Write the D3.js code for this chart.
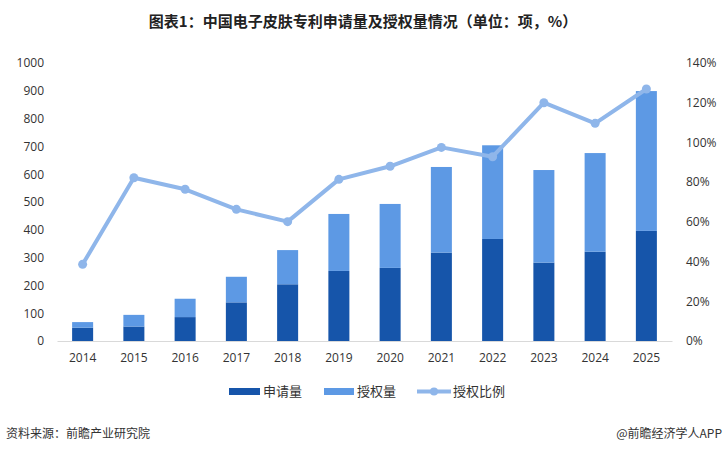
<!DOCTYPE html>
<html><head><meta charset="utf-8">
<script src="https://cdn.jsdelivr.net/npm/d3@7/dist/d3.min.js"></script>
<style>body{margin:0;background:#fff}</style>
</head><body><svg id="c" width="727" height="455"></svg>
<script>
const years = ["2014","2015","2016","2017","2018","2019","2020","2021","2022","2023","2024","2025"];
const applications = [48, 52, 86, 139, 204, 252, 263, 318, 367, 282, 321, 396];
const grants = [20, 42, 66, 92, 123, 205, 230, 308, 337, 333, 355, 503];
const grantRatio = [38.6, 82.2, 76.4, 66.3, 60.1, 81.4, 88.0, 97.5, 92.8, 120.0, 109.6, 126.9];
const leftTicks = [0,100,200,300,400,500,600,700,800,900,1000];
const rightTicks = [0,20,40,60,80,100,120,140];

const svg = d3.select("#c");
const font = "'Noto Sans CJK SC', 'Microsoft YaHei', sans-serif";
const cDark = "#1655AA", cLight = "#5D99E4", cLine = "#8FB6EA";

const x = d3.scaleBand().domain(years).range([57, 672]).paddingInner(0.59).paddingOuter(0.295);
const yL = d3.scaleLinear().domain([0, 1000]).range([341, 63]);
const yR = d3.scaleLinear().domain([0, 140]).range([341, 63]);

svg.append("text").attr("x", 363).attr("y", 27).attr("text-anchor", "middle")
  .attr("font-family", font).attr("font-weight", "bold").attr("font-size", 15).attr("fill", "#222")
  .text("图表1：中国电子皮肤专利申请量及授权量情况（单位：项，%）");

// bars
const g = svg.append("g");
g.selectAll(".a").data(years).join("rect")
  .attr("x", d => x(d)).attr("width", x.bandwidth())
  .attr("y", (d,i) => yL(applications[i])).attr("height", (d,i) => yL(0) - yL(applications[i]))
  .attr("fill", cDark);
g.selectAll(".b").data(years).join("rect")
  .attr("x", d => x(d)).attr("width", x.bandwidth())
  .attr("y", (d,i) => yL(applications[i] + grants[i])).attr("height", (d,i) => yL(applications[i]) - yL(applications[i] + grants[i]))
  .attr("fill", cLight);

// axes
const axL = svg.append("g").attr("transform", "translate(50,0)")
  .call(d3.axisLeft(yL).tickValues(leftTicks).tickSize(0).tickPadding(6).tickFormat(d3.format("d")));
axL.select(".domain").remove();
const axR = svg.append("g").attr("transform", "translate(680,0)")
  .call(d3.axisRight(yR).tickValues(rightTicks).tickSize(0).tickPadding(6).tickFormat(d => d + "%"));
axR.select(".domain").remove();
const axB = svg.append("g").attr("transform", "translate(0,341)")
  .call(d3.axisBottom(x).tickSize(0).tickPadding(12));
axB.select(".domain").attr("stroke", "#d9d9d9");
svg.selectAll(".tick text").attr("font-family", "'Open Sans', 'Liberation Sans', sans-serif").attr("font-size", 12).attr("fill", "#333");

// line
const line = d3.line().x((d,i) => x(years[i]) + x.bandwidth()/2).y(d => yR(d));
svg.append("path").datum(grantRatio).attr("d", line).attr("fill", "none")
  .attr("stroke", cLine).attr("stroke-width", 4).attr("stroke-linejoin", "round");
svg.selectAll(".pt").data(grantRatio).join("circle")
  .attr("cx", (d,i) => x(years[i]) + x.bandwidth()/2).attr("cy", d => yR(d)).attr("r", 4.5).attr("fill", cLine);

// legend
const lg = svg.append("g").attr("font-family", font).attr("font-size", 13).attr("fill", "#333");
lg.append("rect").attr("x", 229).attr("y", 388).attr("width", 31).attr("height", 7).attr("fill", cDark);
lg.append("text").attr("x", 263).attr("y", 396).text("申请量");
lg.append("rect").attr("x", 324).attr("y", 388).attr("width", 30).attr("height", 7).attr("fill", cLight);
lg.append("text").attr("x", 357).attr("y", 396).text("授权量");
lg.append("line").attr("x1", 417).attr("x2", 451).attr("y1", 391.5).attr("y2", 391.5).attr("stroke", cLine).attr("stroke-width", 4);
lg.append("circle").attr("cx", 434).attr("cy", 391.5).attr("r", 4).attr("fill", cLine);
lg.append("text").attr("x", 453).attr("y", 396).text("授权比例");

// footer
svg.append("text").attr("x", 6).attr("y", 438).attr("font-family", font).attr("font-size", 12).attr("fill", "#333").text("资料来源：前瞻产业研究院");
svg.append("text").attr("x", 722).attr("y", 438).attr("text-anchor", "end").attr("font-family", font).attr("font-size", 12).attr("fill", "#333").text("@前瞻经济学人APP");
</script></body></html>
